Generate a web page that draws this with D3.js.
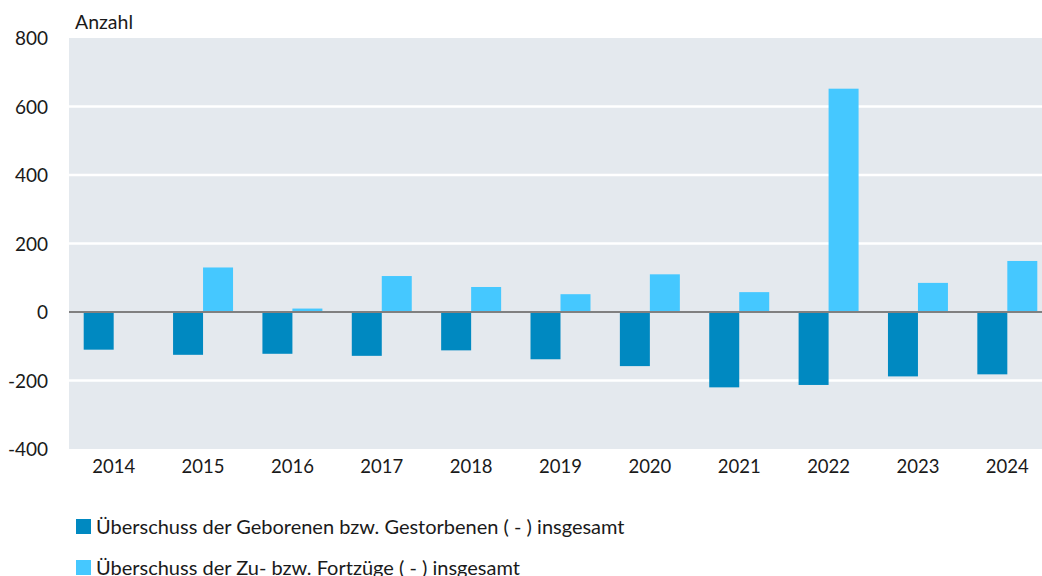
<!DOCTYPE html>
<html>
<head>
<meta charset="utf-8">
<script src="https://cdn.jsdelivr.net/npm/d3@7"></script>
<style>
  body { margin: 0; background: #fff; }
  text { font-family: Lato, "Noto Sans", sans-serif; fill: #1a1a1a; }
</style>
</head>
<body>
<div class="canvas"></div>
<script>
// data
const years = ['2014', '2015', '2016', '2017', '2018', '2019', '2020', '2021', '2022', '2023', '2024'];
const geborenen = [-110, -125, -122, -128, -112, -138, -158, -220, -213, -188, -182];
const wanderung = [-1, 130, 10, 105, 73, 52, 110, 58, 652, 85, 149];
const yTicks = [-400, -200, 0, 200, 400, 600, 800];
const seriesNames = [
    'Überschuss der Geborenen bzw. Gestorbenen ( - ) insgesamt',
    'Überschuss der Zu- bzw. Fortzüge ( - ) insgesamt'
];
const colors = ['#0089c1', '#45c8ff'];

const width = 1042, height = 576;
const margin = { top: 38, right: 0, bottom: 127, left: 69 };
const graphWidth = width - margin.left - margin.right;
const graphHeight = height - margin.top - margin.bottom;

const svg = d3.select('.canvas')
    .append('svg')
    .attr('width', width)
    .attr('height', height);

const graph = svg.append('g')
    .attr('transform', `translate(${margin.left}, ${margin.top})`);

// plot background
graph.append('rect')
    .attr('width', graphWidth)
    .attr('height', graphHeight)
    .attr('fill', '#e4e9ee');

const yScale = d3.scaleLinear()
    .domain([-400, 800])
    .range([graphHeight, 0]);

// bands run slightly past the right edge, as in the original
const xScale = d3.scaleBand()
    .domain(years)
    .range([0, 983])
    .paddingInner(0)
    .paddingOuter(0);

// two bars of ~30px side by side in each year band
const inner = d3.scaleBand()
    .domain([0, 1])
    .range([0, xScale.bandwidth()])
    .paddingInner(0)
    .paddingOuter(0.49);

// gridlines
graph.selectAll('line.grid')
    .data(yTicks.filter(d => d !== 0 && d !== -400 && d !== 800))
    .enter().append('line')
    .attr('class', 'grid')
    .attr('x1', 0).attr('x2', graphWidth)
    .attr('y1', d => yScale(d)).attr('y2', d => yScale(d))
    .attr('stroke', '#fff')
    .attr('stroke-width', 2.5);

// bars
const rows = years.map((y, i) => [
    { year: y, s: 0, v: geborenen[i] },
    { year: y, s: 1, v: wanderung[i] }
]).flat();

graph.selectAll('rect.bar')
    .data(rows)
    .enter().append('rect')
    .attr('class', 'bar')
    .attr('x', d => xScale(d.year) + inner(d.s))
    .attr('width', inner.bandwidth())
    .attr('y', d => yScale(Math.max(0, d.v)))
    .attr('height', d => Math.abs(yScale(d.v) - yScale(0)))
    .attr('fill', d => colors[d.s]);

// zero line
graph.append('line')
    .attr('x1', 0).attr('x2', graphWidth)
    .attr('y1', yScale(0)).attr('y2', yScale(0))
    .attr('stroke', '#808080')
    .attr('stroke-width', 2);

// y axis
const yAxis = d3.axisLeft(yScale)
    .tickValues(yTicks)
    .tickFormat(d => String(d))
    .tickSize(0)
    .tickPadding(21);
const yAxisGroup = graph.append('g').call(yAxis);
yAxisGroup.select('.domain').remove();
yAxisGroup.selectAll('text')
    .style('font-size', '19px')
    .attr('dy', '0.35em');

// x axis
const xAxis = d3.axisBottom(xScale).tickSize(0).tickPadding(11);
const xAxisGroup = graph.append('g')
    .attr('transform', `translate(0, ${graphHeight})`)
    .call(xAxis);
xAxisGroup.select('.domain').remove();
xAxisGroup.selectAll('text').style('font-size', '18.5px');

// unit label
svg.append('text')
    .attr('x', 75).attr('y', 29)
    .style('font-size', '19.5px')
    .text('Anzahl');

// legend
const legend = svg.selectAll('g.legend')
    .data(seriesNames)
    .enter().append('g')
    .attr('class', 'legend')
    .attr('transform', (d, i) => `translate(76, ${519 + i * 41})`);
legend.append('rect')
    .attr('width', 15).attr('height', 15)
    .attr('fill', (d, i) => colors[i]);
legend.append('text')
    .attr('x', 20).attr('y', 15)
    .style('font-size', '20px')
    .text(d => d);
</script>
</body>
</html>
